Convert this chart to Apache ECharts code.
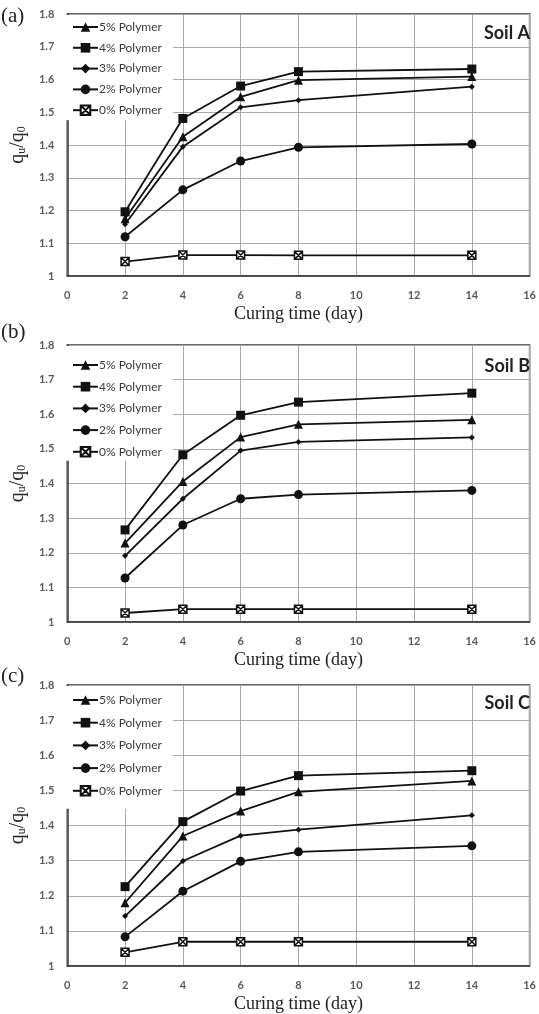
<!DOCTYPE html>
<html>
<head>
<meta charset="utf-8">
<script src="https://cdn.jsdelivr.net/npm/echarts@6/dist/echarts.min.js"></script>
<style>
html,body{margin:0;padding:0;background:#fff;}
#chart{width:539px;height:1014px;}
</style>
</head>
<body>
<div id="chart"></div>
<script>
// ---- data ----
var days = [2, 4, 6, 8, 14];
var seriesNames = ['5% Polymer', '4% Polymer', '3% Polymer', '2% Polymer', '0% Polymer'];
var xTicks = [0, 2, 4, 6, 8, 10, 12, 14, 16];
var yTicks = ['1', '1.1', '1.2', '1.3', '1.4', '1.5', '1.6', '1.7', '1.8'];
var panelLabels = ['(a)', '(b)', '(c)'];
var soilNames = ['Soil A', 'Soil B', 'Soil C'];

var soilA_5 = [1.175, 1.425, 1.547, 1.598, 1.609];
var soilA_4 = [1.196, 1.481, 1.580, 1.624, 1.632];
var soilA_3 = [1.158, 1.395, 1.515, 1.537, 1.578];
var soilA_2 = [1.120, 1.263, 1.351, 1.393, 1.403];
var soilA_0 = [1.044, 1.064, 1.064, 1.063, 1.063];

var soilB_5 = [1.228, 1.406, 1.534, 1.571, 1.584];
var soilB_4 = [1.266, 1.483, 1.597, 1.635, 1.661];
var soilB_3 = [1.191, 1.356, 1.495, 1.520, 1.533];
var soilB_2 = [1.127, 1.280, 1.356, 1.368, 1.380];
var soilB_0 = [1.026, 1.037, 1.037, 1.037, 1.037];

var soilC_5 = [1.180, 1.370, 1.441, 1.496, 1.527];
var soilC_4 = [1.226, 1.411, 1.498, 1.542, 1.556];
var soilC_3 = [1.142, 1.299, 1.371, 1.388, 1.429];
var soilC_2 = [1.083, 1.213, 1.298, 1.325, 1.342];
var soilC_0 = [1.039, 1.069, 1.069, 1.069, 1.069];

var panels = [
  [soilA_5, soilA_4, soilA_3, soilA_2, soilA_0],
  [soilB_5, soilB_4, soilB_3, soilB_2, soilB_0],
  [soilC_5, soilC_4, soilC_3, soilC_2, soilC_0]
];

// ---- layout ----
var gridTops = [14, 345, 685];
var gridHeights = [262, 277, 281];
var legendGaps = [8.8, 9.7, 10.7];
var legendPadTop = [6, 13, 8];
var legendPadBottom = [4, 3, 12];
var labelTops = [6, 322, 666];
var soilTops = [24, 357, 694];

var symbols = ['triangle', 'rect', 'diamond', 'circle',
  'path://M0,0L10,0L10,10L0,10Z M0,0L10,10 M10,0L0,10'];
var symbolSizes = [9, 9, 6, 9, 8];

var option = {
  backgroundColor: '#fff',
  animation: false,
  title: [],
  legend: [],
  grid: [],
  xAxis: [],
  yAxis: [],
  series: []
};

for (var p = 0; p < 3; p++) {
  option.grid.push({
    left: 62, right: 8, top: gridTops[p], height: gridHeights[p],
    show: true, borderColor: '#3a3a3a', borderWidth: 1.5, backgroundColor: 'transparent'
  });
  option.xAxis.push({
    type: 'value', gridIndex: p, min: 0, max: 16, interval: 2,
    name: 'Curing time (day)', nameLocation: 'middle', nameGap: 29,
    nameTextStyle: {fontFamily: 'Liberation Serif', fontSize: 18, color: '#222'},
    axisLine: {show: true, lineStyle: {color: '#3a3a3a', width: 1.5}},
    axisTick: {show: false},
    axisLabel: {margin: 14, fontFamily: 'Lato', fontSize: 11, fontWeight: 'bold', color: '#5a5a5a',
      formatter: function (v) { return String(xTicks[Math.round(v / 2)]); }},
    splitLine: {show: true, lineStyle: {color: '#a8a8a8', width: 1}}
  });
  option.yAxis.push({
    type: 'value', gridIndex: p, min: 1, max: 1.8, interval: 0.1,
    name: '{q|q}{s|u}{q|/q}{s|0}', nameLocation: 'middle', nameGap: 35, nameRotate: 90,
    nameTextStyle: {
      rich: {
        q: {fontFamily: 'Liberation Serif', fontSize: 20, color: '#222', lineHeight: 20},
        s: {fontFamily: 'Liberation Serif', fontSize: 12, color: '#222', lineHeight: 20, verticalAlign: 'bottom', padding: [8, 0, 0, 0]}
      }
    },
    axisLine: {show: true, lineStyle: {color: '#3a3a3a', width: 1.5}},
    axisTick: {show: false},
    axisLabel: {margin: 13, fontFamily: 'Lato', fontSize: 11, fontWeight: 'bold', color: '#5a5a5a',
      formatter: function (v) { return yTicks[Math.round((v - 1) * 10)]; }},
    splitLine: {show: true, lineStyle: {color: '#a8a8a8', width: 1}}
  });
  option.legend.push({
    orient: 'vertical', left: 64, top: gridTops[p] + 1,
    padding: [legendPadTop[p], 11, legendPadBottom[p], 8],
    backgroundColor: '#fff',
    itemWidth: 25, itemHeight: 12, itemGap: legendGaps[p],
    textStyle: {fontFamily: 'Lato', fontSize: 12, color: '#3a3a3a', padding: [0, 0, 0, -4]},
    data: seriesNames.slice()
  });
  option.title.push({
    text: panelLabels[p], left: 1, top: labelTops[p], padding: 0,
    textStyle: {fontFamily: 'Liberation Serif', fontSize: 21, fontWeight: 'normal', color: '#222'}
  });
  option.title.push({
    text: soilNames[p], right: 9, top: soilTops[p], padding: 0,
    textStyle: {fontFamily: 'Lato', fontSize: 18, fontWeight: 'bold', color: '#222'}
  });
  for (var s = 0; s < 5; s++) {
    var vals = panels[p][s];
    var data = [];
    for (var i = 0; i < days.length; i++) data.push([days[i], vals[i]]);
    var isOpen = (s === 4);
    option.series.push({
      type: 'line', name: seriesNames[s], xAxisIndex: p, yAxisIndex: p,
      data: data,
      symbol: symbols[s], symbolSize: symbolSizes[s], showAllSymbol: true,
      lineStyle: {color: '#111', width: 1.8},
      itemStyle: isOpen ? {color: '#fff', borderColor: '#111', borderWidth: 1.5}
                        : {color: '#111', borderColor: '#111', borderWidth: 0},
      emphasis: {disabled: true},
      z: 3
    });
  }
}

var chart = echarts.init(document.getElementById('chart'), null, {renderer: 'canvas'});
chart.setOption(option);
</script>
</body>
</html>
